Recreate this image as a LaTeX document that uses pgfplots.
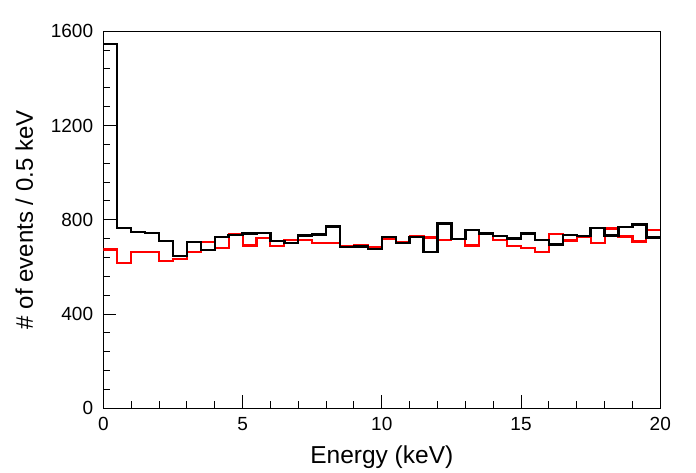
\documentclass[border=0pt]{standalone}
\usepackage{pgfplots}
\pgfplotsset{compat=1.18}
\usepackage{fontspec}
\setmainfont{Liberation Sans}
\definecolor{rootred}{RGB}{255,0,0}
\begin{document}
\begin{tikzpicture}
\useasboundingbox (0,0) rectangle (696pt,472pt);
\begin{axis}[
  at={(103.3pt,63.7pt)}, anchor=south west,
  scale only axis, width=557pt, height=377pt,
  xmin=0, xmax=20, ymin=0, ymax=1600,
  xtick={0,5,10,15,20}, ytick={0,400,800,1200,1600},
  minor x tick num=4, minor y tick num=4,
  tick align=inside, xtick pos=bottom, ytick pos=left,
  axis line style={line width=1pt},
  every tick/.style={black, line width=1pt},
  major tick length=13pt, minor tick length=7pt,
  /pgf/number format/assume math mode=true,
  ticklabel style={font=\fontsize{19}{21}\selectfont},
  xticklabel style={anchor=base, yshift=-22pt},
  yticklabel style={anchor=east, inner sep=0pt, xshift=-10pt},
  scaled y ticks=false,
  yticklabel={\pgfmathprintnumber[fixed,1000 sep={}]{\tick}},
  every axis x label/.style={at={(axis description cs:0.5,-0.1459)}, anchor=base, font=\fontsize{24.5}{26}\selectfont},
  every axis y label/.style={at={(axis description cs:-0.1418,0.5)}, rotate=90, anchor=center, font=\fontsize{24}{26}\selectfont},
  xlabel={Energy (keV)},
  ylabel={\# of events / 0.5 keV},
]
\addplot[const plot mark left, rootred, line width=2.1pt, mark=none] coordinates {
(0,674) (0.5,618) (1,665) (1.5,665) (2,627) (2.5,635) (3,662) (3.5,704) (4,680) (4.5,739)
(5,691) (5.5,721) (6,687) (6.5,716) (7,716) (7.5,701) (8,701) (8.5,687) (9,691) (9.5,686)
(10,720) (10.5,705) (11,733) (11.5,725) (12,716) (12.5,719) (13,691) (13.5,740) (14,716) (14.5,687)
(15,681) (15.5,662) (16,738) (16.5,712) (17,728) (17.5,701) (18,763) (18.5,729) (19,708) (19.5,755)
(20,755)};
\addplot[const plot mark left, black, line width=2.4pt, mark=none] coordinates {
(0,1545) (0.5,765) (1,749) (1.5,745) (2,711) (2.5,647) (3,706) (3.5,672) (4,728) (4.5,735)
(5,742) (5.5,745) (6,711) (6.5,701) (7,733) (7.5,738) (8,772) (8.5,684) (9,687) (9.5,677)
(10,728) (10.5,701) (11,726) (11.5,664) (12,784) (12.5,719) (13,757) (13.5,742) (14,732) (14.5,721)
(15,742) (15.5,715) (16,695) (16.5,736) (17,732) (17.5,766) (18,733) (18.5,770) (19,780) (19.5,725)
(20,725)};
\end{axis}
\end{tikzpicture}
\end{document}
